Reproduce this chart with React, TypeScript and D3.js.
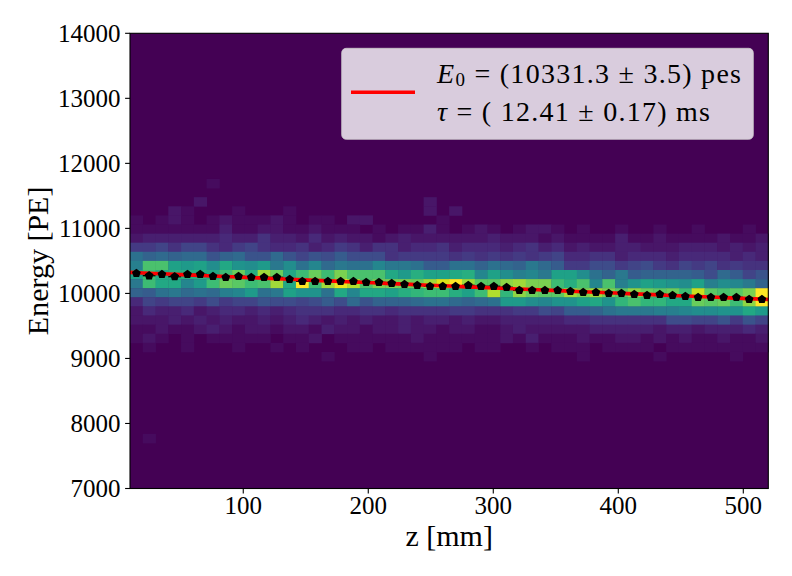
import React from "react";
import * as d3 from "d3";

// ---- data ----
const zDomain: [number, number] = [9.4, 520]; // z [mm], histogram range
const eDomain: [number, number] = [7000, 14000]; // Energy [PE]
const nBinsZ = 50;
const nBinsE = 50;

// 2D histogram counts, one string per energy bin (top row = bin 33, going down),
// one base-36 character per z bin (0..z = 0..35 counts)
const histTopBin = 33;
const histRows: string[] = [
  "00000010000000000000000000000000000000000000000000",
  "00000000000000000000000000000000000000000000000000",
  "00000200000000000000000200000000000000000000000000",
  "00021000100010000000000202000000000000000000000000",
  "10121012111210110220000010000000000000000000000000",
  "11111113112211211101011310121012210100100100100010",
  "23333334335332423221232222223222121111311211112112",
  "66757754675445346535534453444345342322332223332323",
  "dbcbcc9bc99c9798a888566665656565674455344434444343",
  "fppkjkhlihjehdgceddgeedaaddbdcbeca6688678657675655",
  "kolmmmlormurlorospppljmkklmgkhfgekkhdbeabbbba8ca79",
  "eollgjorqopulzouyvpsssruxzuqqtussompgpfikjihkfhgeb",
  "badecdcfgjdekiidlgllkmnoomkovntrqqususqtrqrowqpqsz",
  "476776867798878a8c9bbbcddcbcdjjhgiiklinpnnllrqrotz",
  "2433423443434555445545555665556687aabdeeeffghhiilj",
  "22232323223234323232232332322333334455555588779697",
  "11211232122122132212232212211232222233333233233343",
  "12101011111011201111112111111213111211221212112112",
  "01001000100101000110111111011001011101111011111111",
  "00000000000000010000000100000000000100000100000100",
];
const extraCells = [{ iz: 1, ie: 5, n: 1 }];

// profile (mean energy per z bin)
const profileE: number[] = [
  10309, 10273, 10293, 10258, 10293, 10293, 10263, 10247, 10263, 10247,
  10247, 10247, 10217, 10186, 10186, 10186, 10186, 10186, 10170, 10170,
  10155, 10140, 10124, 10109, 10109, 10109, 10124, 10109, 10109, 10094,
  10047, 10047, 10047, 10047, 10032, 10017, 10017, 10001, 10001, 9986,
  9971, 9986, 9971, 9955, 9940, 9940, 9940, 9940, 9909, 9909,
];

// fit result (legend)
const fitE0 = 10331.3;
const fitE0Err = 3.5;
const fitTau = 12.41; // ms
const fitTauErr = 0.17;
const driftVelocity = 1.0; // mm/us

const xTickValues = [100, 200, 300, 400, 500];
const yTickValues = [7000, 8000, 9000, 10000, 11000, 12000, 13000, 14000];

const FONT = "'Liberation Serif', 'DejaVu Serif', serif";

function pentagon(r: number) {
  const pts = d3.range(5).map((i) => {
    const a = -Math.PI / 2 + (i * 2 * Math.PI) / 5;
    return [r * Math.cos(a), r * Math.sin(a)];
  });
  return "M" + pts.map((p) => p.join(",")).join("L") + "Z";
}

export default function App() {
  const W = 792;
  const H = 576;
  const L = 130;
  const R = 768.3;
  const T = 33.3;
  const B = 488.5;

  const x = d3.scaleLinear().domain(zDomain).range([L, R]);
  const y = d3.scaleLinear().domain(eDomain).range([B, T]);

  const zEdges = d3.range(nBinsZ + 1).map((i) => zDomain[0] + ((zDomain[1] - zDomain[0]) * i) / nBinsZ);
  const eEdges = d3.range(nBinsE + 1).map((i) => eDomain[0] + ((eDomain[1] - eDomain[0]) * i) / nBinsE);

  const cells: { iz: number; ie: number; n: number }[] = [];
  histRows.forEach((row, r) => {
    const ie = histTopBin - r;
    for (let iz = 0; iz < nBinsZ; iz++) {
      const n = parseInt(row[iz] || "0", 36);
      if (n > 0) cells.push({ iz, ie, n });
    }
  });
  extraCells.forEach((c) => cells.push(c));
  const maxN = d3.max(cells, (c) => c.n) || 1;
  const color = d3.scaleSequential(d3.interpolateViridis).domain([0, maxN]);

  const zCenters = d3.range(nBinsZ).map((i) => (zEdges[i] + zEdges[i + 1]) / 2);

  const fitZ = d3.range(0, 101).map((i) => zDomain[0] + ((zDomain[1] - zDomain[0]) * i) / 100);
  const fitLine = d3
    .line<number>()
    .x((z) => x(z))
    .y((z) => y(fitE0 * Math.exp(-z / (driftVelocity * fitTau * 1000))));

  const pent = pentagon(4.6);

  return (
    <svg
      width={W}
      height={H}
      style={{ position: "absolute", left: 0, top: 0, background: "#fff" }}
      fontFamily={FONT}
    >
      {/* background (zero counts) */}
      <rect x={L} y={T} width={R - L} height={B - T} fill={color(0)} />
      {/* histogram cells */}
      {cells.map((c, i) => (
        <rect
          key={i}
          x={x(zEdges[c.iz])}
          y={y(eEdges[c.ie + 1])}
          width={x(zEdges[c.iz + 1]) - x(zEdges[c.iz]) + 0.4}
          height={y(eEdges[c.ie]) - y(eEdges[c.ie + 1]) + 0.4}
          fill={color(c.n)}
        />
      ))}
      {/* profile x error bars */}
      {profileE.map((e, i) => (
        <line
          key={"xe" + i}
          x1={x(zEdges[i])}
          x2={x(zEdges[i + 1])}
          y1={y(e)}
          y2={y(e)}
          stroke="#000"
          strokeWidth={1.4}
        />
      ))}
      {/* fit */}
      <path d={fitLine(fitZ) || ""} fill="none" stroke="#ff0000" strokeWidth={3.6} />
      {/* profile markers */}
      {profileE.map((e, i) => (
        <path key={"p" + i} d={pent} transform={`translate(${x(zCenters[i])},${y(e)})`} fill="#000" />
      ))}

      {/* frame */}
      <rect x={L} y={T} width={R - L} height={B - T} fill="none" stroke="#000" strokeWidth={1.1} />

      {/* x axis */}
      {xTickValues.map((t) => (
        <g key={"xt" + t}>
          <line x1={x(t)} x2={x(t)} y1={B} y2={B + 4.9} stroke="#000" strokeWidth={1.1} />
          <text x={x(t)} y={514} textAnchor="middle" fontSize={25} fill="#000">
            {t}
          </text>
        </g>
      ))}
      {/* y axis */}
      {yTickValues.map((t) => (
        <g key={"yt" + t}>
          <line x1={L - 4.9} x2={L} y1={y(t)} y2={y(t)} stroke="#000" strokeWidth={1.1} />
          <text x={120.5} y={y(t)} dy="0.34em" textAnchor="end" fontSize={25} fill="#000">
            {t}
          </text>
        </g>
      ))}

      <text x={(L + R) / 2} y={546} textAnchor="middle" fontSize={30} fill="#000">
        z [mm]
      </text>
      <text
        transform={`translate(48,${(T + B) / 2}) rotate(-90)`}
        textAnchor="middle"
        fontSize={30}
        fill="#000"
      >
        Energy [PE]
      </text>

      {/* legend */}
      <rect
        x={341.7}
        y={48.3}
        width={411.6}
        height={91}
        rx={4.5}
        fill="#ffffff"
        fillOpacity={0.8}
        stroke="#cccccc"
        strokeOpacity={0.8}
        strokeWidth={1}
      />
      <line x1={351} x2={415} y1={92.3} y2={92.3} stroke="#ff0000" strokeWidth={3.6} />
      <text x={437} y={83.3} fontSize={28} fill="#000" textLength={304} lengthAdjust="spacing">
        <tspan fontStyle="italic">E</tspan>
        <tspan fontSize={19} dy={3}>0</tspan>
        <tspan dy={-3}>{` = (${fitE0.toFixed(1)} ± ${fitE0Err.toFixed(1)}) pes`}</tspan>
      </text>
      <text x={437} y={120.5} fontSize={28} fill="#000" textLength={273} lengthAdjust="spacing">
        <tspan fontStyle="italic">τ</tspan>
        <tspan>{` = ( ${fitTau.toFixed(2)} ± ${fitTauErr.toFixed(2)}) ms`}</tspan>
      </text>
    </svg>
  );
}
